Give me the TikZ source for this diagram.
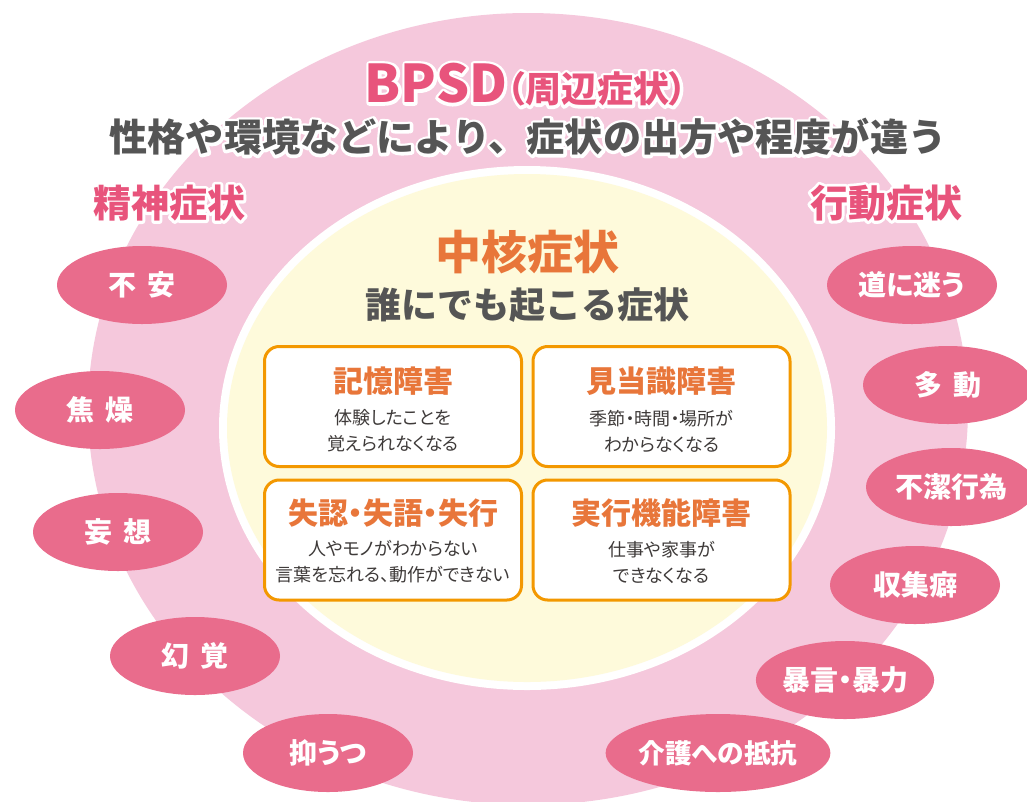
\documentclass[tikz,border=0pt]{standalone}
\usepackage{fontspec}
\setmainfont{Noto Sans CJK JP}
\newfontfamily\pf{Noto Sans CJK JP}[RawFeature=+palt]
\usetikzlibrary{shapes.geometric}
\definecolor{bgpink}{HTML}{F5C8DC}
\definecolor{pillpink}{HTML}{E96C8C}
\definecolor{coreyellow}{HTML}{FEFADB}
\definecolor{boxorange}{HTML}{F39800}
\definecolor{orangetext}{HTML}{E8763A}
\definecolor{titlepink}{HTML}{E8547C}
\definecolor{graytext}{HTML}{555555}
\definecolor{bodytext}{HTML}{3E3A39}
% white outline behind a text: the same text stroked once in white, then filled in colour
\newcommand\halo[1]{\makebox[0pt][l]{\textcolor{white}{\special{pdf:code q 1 Tr 4.4 w 1 j 1 J}#1\special{pdf:code Q}}}#1}
\begin{document}
\begin{tikzpicture}[x=0.75pt,y=-0.75pt,
  pill/.style={ellipse, fill=pillpink, minimum width=127.5pt, minimum height=58.5pt, inner sep=0pt, text=white, font=\pf\bfseries\fontsize{21}{21}\selectfont},
  cbox/.style={draw=boxorange, line width=2.25pt, fill=white, rounded corners=11pt, minimum width=192.75pt, minimum height=90pt, inner sep=0pt},
  boxtitle/.style={text=orangetext, font=\pf\bfseries\fontsize{22.5}{22.5}\selectfont, inner sep=0pt},
  boxsub/.style={text=bodytext, font=\pf\fontsize{13.5}{19.5}\selectfont, align=center, inner sep=0pt},
  halotitle/.style={text=titlepink, font=\bfseries, inner sep=0pt}
]
\useasboundingbox (0,0) rectangle (1027,801);
\fill[white] (0,0) rectangle (1027,801);
% outer BPSD area
\fill[bgpink] (528,409) ellipse [x radius=330pt, y radius=297pt];
% core area
\fill[white] (527,428) ellipse [x radius=231pt, y radius=196.5pt];
\fill[coreyellow] (527,428) ellipse [x radius=225pt, y radius=190.5pt];

% left pills
\node[pill] (p1) at (142,285) {不\hspace{0.4em}安};
\node[pill] (p2) at (100,410) {焦\hspace{0.4em}燥};
\node[pill] (p3) at (118,532) {妄\hspace{0.4em}想};
\node[pill] (p4) at (195,656) {幻\hspace{0.4em}覚};
\node[pill] (p5) at (328,753) {抑うつ};
% right pills
\node[pill] (p6) at (912,285) {道に迷う};
\node[pill] (p7) at (948,385) {多\hspace{0.4em}動};
\node[pill] (p8) at (951,487) {不潔行為};
\node[pill] (p9) at (915,585) {収集癖};
\node[pill] (p10) at (845,680) {暴言・暴力};
\node[pill, font=\pf\bfseries\fontsize{20}{20}\selectfont] (p11) at (718,753) {介護への抵抗};

% titles
\node[halotitle] (bpsd) at (526,85) {\halo{\fontsize{39}{39}\selectfont BPSD\pf\fontsize{27}{27}\selectfont（周辺症状）}};
\node[text=graytext, font=\bfseries\fontsize{28.6}{28.6}\selectfont, inner sep=0pt] (subtitle) at (528,137) {\halo{性格や環境などにより、症状の出方や程度が違う}};
\node[halotitle, font=\bfseries\fontsize{28.5}{28.5}\selectfont] (seishin) at (169,203) {\halo{精神症状}};
\node[halotitle, font=\bfseries\fontsize{28.5}{28.5}\selectfont] (koudou) at (886,203) {\halo{行動症状}};

\node[text=orangetext, font=\bfseries\fontsize{34.5}{34.5}\selectfont, inner sep=0pt] (chukaku) at (527,252) {中核症状};
\node[text=graytext, font=\bfseries\fontsize{27}{27}\selectfont, inner sep=0pt] (daredemo) at (527,305) {誰にでも起こる症状};

% boxes
\node[cbox] (b1) at (393,406.5) {};
\node[cbox] (b2) at (661.5,406.5) {};
\node[cbox] (b3) at (393,540) {};
\node[cbox] (b4) at (661.5,540) {};

\node[boxtitle] (t1) at (393,381) {記憶障害};
\node[boxsub] (s1) at (393,431) {体験したことを\\覚えられなくなる};
\node[boxtitle] (t2) at (661.5,381) {見当識障害};
\node[boxsub] (s2) at (661.5,431) {季節・時間・場所が\\わからなくなる};
\node[boxtitle] (t3) at (393,513) {失認・失語・失行};
\node[boxsub] (s3) at (393,562) {人やモノがわからない\\言葉を忘れる、動作ができない};
\node[boxtitle] (t4) at (661.5,513) {実行機能障害};
\node[boxsub] (s4) at (661.5,562) {仕事や家事が\\できなくなる};
\end{tikzpicture}
\end{document}
